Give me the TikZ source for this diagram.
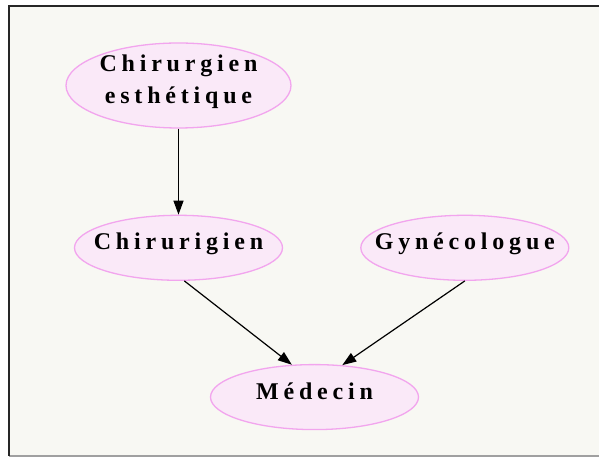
\documentclass[tikz,border=0pt]{standalone}
\usepackage{fontspec}
\usetikzlibrary{arrows.meta,positioning,shapes.geometric}
\newfontfamily\lblfont[LetterSpace=20]{Liberation Serif}
\definecolor{pinkline}{HTML}{F2A5EE}
\definecolor{pinkfill}{HTML}{FAE9F8}
\definecolor{paper}{HTML}{F8F8F3}
\definecolor{framegray}{HTML}{A0A0A0}
\tikzset{job/.style={ellipse,draw=pinkline,fill=pinkfill,line width=1.3pt,inner sep=0pt,
  minimum width=208pt,minimum height=65pt,text height=16pt,text depth=12pt,
  font=\lblfont\bfseries\fontsize{24}{32}\selectfont},
  flow/.style={-{Triangle[length=14pt,width=10pt]},line width=1.2pt,draw=black}}
\newcommand\tight[1]{\makebox[0pt]{#1}}

\begin{document}
\begin{tikzpicture}[x=1pt,y=1pt,node distance=86pt and 77pt]
\useasboundingbox (0,0) rectangle (599,457);
\fill[paper] (9,1) rectangle (599,451);
\draw[framegray,line width=1.5pt] (9,1) -- (599,1);
\draw[black!85,line width=2pt] (9,1) -- (9,451) -- (599,451);
\node[job,minimum width=225pt,minimum height=85pt,align=center,text height=48pt,text depth=12pt] (esth) at (178.5,371.5)
  {\tight{Chirurgien}\\\tight{esthétique}};
\node[job,below=of esth] (chir) {\tight{Chirurigien}};
\node[job,right=of chir] (gyn) {\tight{Gynécologue}};
\node[job,below=83pt of chir,xshift=136pt] (med) {\tight{Médecin}};
\draw[flow] (esth)--(chir);
\draw[flow] (chir.-80)--(med.125);\draw[flow] (gyn.south)--(med.49);
\end{tikzpicture}
\end{document}
